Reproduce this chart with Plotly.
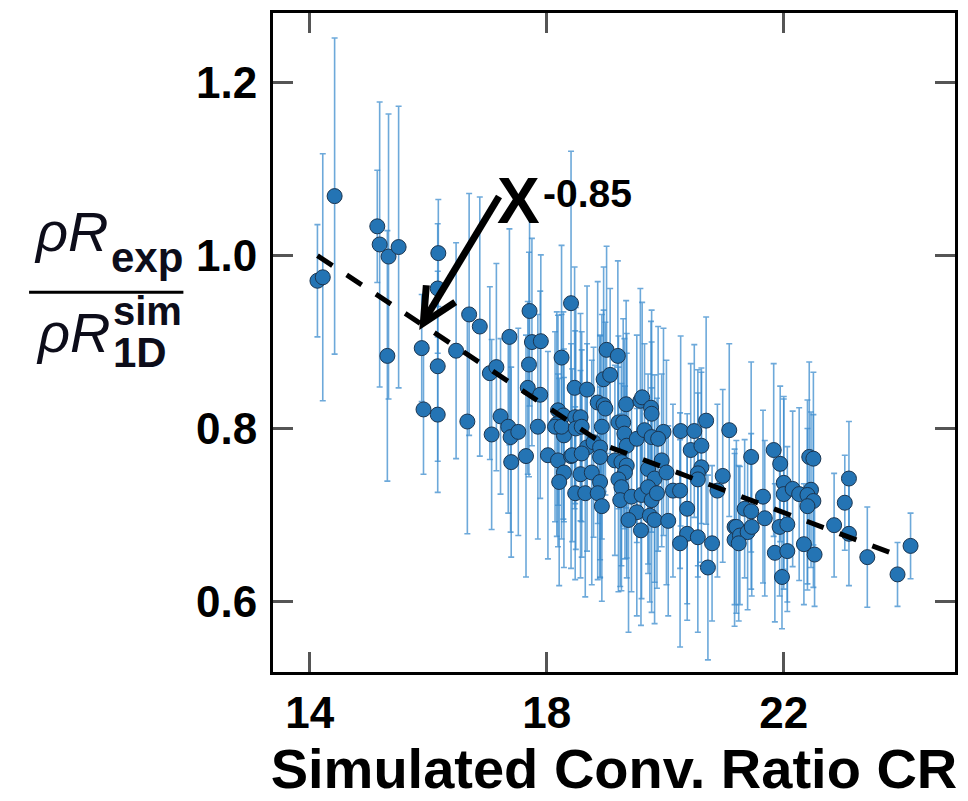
import plotly.graph_objects as go

# ---------------- data ----------------
cr = [14.13, 14.22, 14.42, 15.14, 15.18, 15.33, 15.50, 15.31, 16.17, 16.16,
      16.69, 16.87, 15.89, 16.47, 16.16, 17.04, 17.15, 15.92, 16.16, 16.66,
      17.07, 17.37, 17.71, 17.75, 17.90, 18.25, 18.41, 17.70, 17.68, 17.89,
      18.47, 18.19, 18.28, 18.17, 17.22, 17.35, 17.39, 17.52, 17.85, 18.29,
      17.40, 17.65, 18.02, 18.19, 18.41, 18.29, 18.21, 18.48, 19.01, 19.20,
      18.96, 19.07, 18.68, 18.86, 18.96, 18.99, 19.34, 19.58, 19.61, 19.76,
      19.77, 18.14, 18.25, 18.48, 18.57, 18.49, 18.59, 18.93, 19.21, 19.29,
      19.31, 19.35, 19.52, 19.65, 19.77, 19.97, 19.88, 20.26, 20.49, 20.69,
      21.08, 18.68, 18.79, 18.90, 18.43, 18.59, 18.90, 19.15, 19.26, 19.35,
      19.32, 19.71, 19.82, 19.94, 20.02, 20.43, 20.61, 20.61, 20.55, 20.55,
      20.97, 18.57, 18.76, 18.90, 18.65, 18.86, 18.93, 19.21, 19.26, 19.24,
      19.43, 19.60, 19.71, 19.77, 19.86, 20.13, 20.25, 20.37, 19.52, 19.38,
      19.59, 19.74, 19.82, 20.05, 20.37, 20.55, 20.25, 20.79, 20.72, 21.17,
      21.17, 20.88, 21.45, 21.83, 21.94, 22.00, 22.00, 22.15, 22.26, 22.43,
      22.50, 22.46, 22.40, 22.50, 22.40, 21.65, 21.68, 21.34, 21.45, 21.20,
      21.26, 21.39, 21.46, 21.24, 21.93, 22.06, 21.85, 22.06, 21.97, 22.34,
      22.52, 22.85, 23.03, 23.10, 23.10, 23.41, 23.92, 24.14]

ratio = [0.971, 0.975, 1.069, 1.034, 1.013, 0.999, 1.010, 0.884, 1.003, 0.962,
         0.932, 0.918, 0.893, 0.890, 0.872, 0.864, 0.871, 0.822, 0.816, 0.808,
         0.793, 0.906, 0.936, 0.900, 0.901, 0.882, 0.945, 0.874, 0.847, 0.839,
         0.847, 0.821, 0.815, 0.805, 0.814, 0.802, 0.790, 0.796, 0.802, 0.792,
         0.761, 0.768, 0.769, 0.763, 0.768, 0.749, 0.738, 0.725, 0.891, 0.884,
         0.857, 0.862, 0.845, 0.830, 0.827, 0.823, 0.828, 0.832, 0.836, 0.824,
         0.817, 0.802, 0.802, 0.813, 0.813, 0.800, 0.802, 0.802, 0.807, 0.807,
         0.794, 0.780, 0.788, 0.798, 0.790, 0.796, 0.788, 0.797, 0.797, 0.809,
         0.798, 0.778, 0.784, 0.778, 0.769, 0.771, 0.767, 0.763, 0.761, 0.757,
         0.749, 0.753, 0.742, 0.763, 0.749, 0.775, 0.780, 0.755, 0.748, 0.741,
         0.745, 0.747, 0.749, 0.738, 0.725, 0.725, 0.710, 0.741, 0.732, 0.717,
         0.721, 0.723, 0.732, 0.717, 0.725, 0.728, 0.728, 0.707, 0.703, 0.694,
         0.682, 0.699, 0.694, 0.693, 0.678, 0.674, 0.667, 0.667, 0.639, 0.686,
         0.671, 0.728, 0.767, 0.775, 0.759, 0.737, 0.724, 0.730, 0.724, 0.767,
         0.765, 0.729, 0.723, 0.716, 0.710, 0.721, 0.696, 0.707, 0.704, 0.686,
         0.676, 0.680, 0.686, 0.667, 0.686, 0.689, 0.656, 0.658, 0.628, 0.666,
         0.654, 0.688, 0.714, 0.742, 0.678, 0.651, 0.631, 0.664]

err = [0.065, 0.143, 0.183, 0.065, 0.165, 0.165, 0.163, 0.145, 0.062, 0.075,
       0.140, 0.150, 0.062, 0.125, 0.110, 0.100, 0.120, 0.075, 0.090, 0.130,
       0.110, 0.125, 0.110, 0.120, 0.100, 0.130, 0.176, 0.130, 0.100, 0.120,
       0.140, 0.110, 0.120, 0.130, 0.090, 0.100, 0.110, 0.120, 0.130, 0.100,
       0.110, 0.140, 0.120, 0.100, 0.130, 0.110, 0.120, 0.100, 0.120, 0.110,
       0.130, 0.100, 0.120, 0.140, 0.110, 0.100, 0.120, 0.130, 0.110, 0.100,
       0.120, 0.110, 0.130, 0.100, 0.120, 0.140, 0.110, 0.130, 0.100, 0.120,
       0.110, 0.130, 0.120, 0.100, 0.110, 0.120, 0.130, 0.110, 0.100, 0.120,
       0.100, 0.120, 0.110, 0.130, 0.100, 0.120, 0.140, 0.110, 0.120, 0.130,
       0.100, 0.110, 0.120, 0.100, 0.130, 0.100, 0.090, 0.110, 0.120, 0.100,
       0.100, 0.120, 0.130, 0.110, 0.120, 0.100, 0.110, 0.130, 0.120, 0.100,
       0.110, 0.120, 0.100, 0.130, 0.110, 0.100, 0.090, 0.110, 0.120, 0.130,
       0.110, 0.100, 0.120, 0.110, 0.100, 0.110, 0.120, 0.090, 0.107, 0.090,
       0.100, 0.100, 0.110, 0.100, 0.090, 0.100, 0.110, 0.090, 0.100, 0.110,
       0.100, 0.090, 0.110, 0.100, 0.090, 0.100, 0.090, 0.080, 0.090, 0.100,
       0.080, 0.090, 0.080, 0.090, 0.080, 0.090, 0.080, 0.070, 0.060, 0.070,
       0.060, 0.060, 0.055, 0.066, 0.060, 0.058, 0.037, 0.038]

# dashed guide line (x^-0.85 trend)
fit_x = [14.13, 19.0, 24.0]
fit_y = [1.000, 0.780, 0.651]

x_ticks = [14, 18, 22]
y_ticks = [0.6, 0.8, 1.0, 1.2]
y_tick_text = ["0.6", "0.8", "1.0", "1.2"]

# ---------------- layout geometry ----------------
W, H = 968, 801
L, R, T, B = 273, 10, 11, 129
PW, PH = W - L - R, H - T - B


def px(xp):
    return (xp - L) / PW


def py(yp):
    return (H - B - yp) / PH


FONT = "Liberation Sans, Arial, sans-serif"

fig = go.Figure()

fig.add_trace(go.Scatter(
    x=cr, y=ratio, mode="markers",
    error_y=dict(type="data", array=err, visible=True,
                 color="rgba(60,140,205,0.75)", thickness=1.6, width=3),
    marker=dict(size=15, color="#2474b4",
                line=dict(color="#1b3550", width=1)),
    showlegend=False,
))

fig.add_trace(go.Scatter(
    x=fit_x, y=fit_y, mode="lines",
    line=dict(color="black", width=5, dash="18px,17px"),
    showlegend=False, hoverinfo="skip",
))

axis_common = dict(
    showline=True, linecolor="black", linewidth=3, mirror="ticks",
    ticks="inside", ticklen=20, tickwidth=3, tickcolor="#555555",
    showgrid=False, zeroline=False,
    tickfont=dict(family=FONT, size=44, color="black", weight="bold"),
)

fig.update_xaxes(range=[13.38, 24.89], tickvals=x_ticks,
                 ticklabelstandoff=0,
                 title=dict(text="Simulated Conv. Ratio CR",
                            font=dict(family=FONT, size=56, color="black",
                                      weight="bold"),
                            standoff=6),
                 **axis_common)
fig.update_yaxes(range=[0.518, 1.281], tickvals=y_ticks,
                 ticktext=y_tick_text, ticklabelstandoff=4,
                 **axis_common)

ann = []
tc = "#0d0d1a"
# y-axis title as a fraction
ann.append(dict(text="<i>ρR</i>", x=px(110), y=py(264), xanchor="right",
                yanchor="bottom", font=dict(family=FONT, size=56, color=tc)))
ann.append(dict(text="<b>exp</b>", x=px(108), y=py(282), xanchor="left",
                yanchor="bottom", font=dict(family=FONT, size=42, color=tc)))
ann.append(dict(text="<i>ρR</i>", x=px(112), y=py(365), xanchor="right",
                yanchor="bottom", font=dict(family=FONT, size=56, color=tc)))
ann.append(dict(text="<b>sim</b>", x=px(110), y=py(334), xanchor="left",
                yanchor="bottom", font=dict(family=FONT, size=40, color=tc)))
ann.append(dict(text="<b>1D</b>", x=px(110), y=py(377), xanchor="left",
                yanchor="bottom", font=dict(family=FONT, size=42, color=tc)))
# X^-0.85 label
ann.append(dict(text="<b>X</b>", x=px(520), y=py(200), xanchor="center",
                yanchor="middle", font=dict(family=FONT, size=64, color="black")))
ann.append(dict(text="<b>-0.85</b>", x=px(542), y=py(192), xanchor="left",
                yanchor="middle", font=dict(family=FONT, size=39, color="black")))
for a in ann:
    a.update(xref="paper", yref="paper", showarrow=False)
fig.update_layout(annotations=ann)

# fraction bar and arrow
fig.add_shape(type="line", xref="paper", yref="paper",
              x0=px(28), x1=px(183), y0=py(291), y1=py(291),
              line=dict(color="black", width=3))
fig.add_shape(type="line", xref="paper", yref="paper",
              x0=px(500), y0=py(195), x1=px(425), y1=py(319),
              line=dict(color="black", width=7))
fig.add_shape(type="path", xref="paper", yref="paper",
              path=f"M {px(427)},{py(284)} L {px(424)},{py(322)} L {px(456)},{py(301)}",
              line=dict(color="black", width=7))

fig.update_layout(
    width=W, height=H,
    margin=dict(l=L, r=R, t=T, b=B),
    paper_bgcolor="white", plot_bgcolor="white",
)

fig.write_html("out.html")
